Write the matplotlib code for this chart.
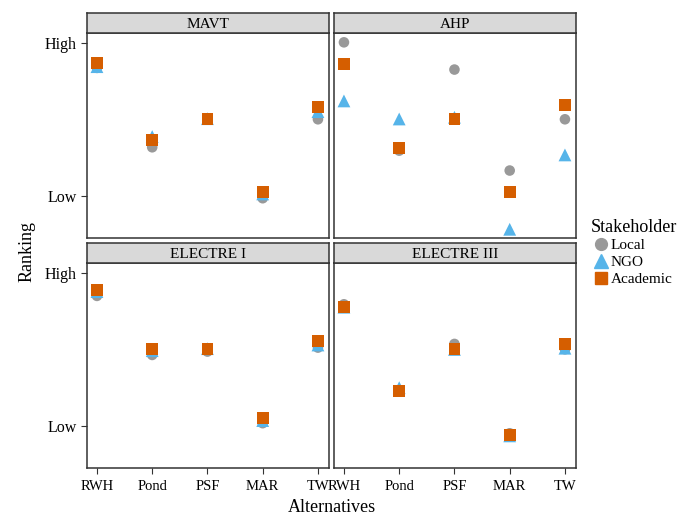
import matplotlib
matplotlib.use("Agg")
import matplotlib.pyplot as plt
from matplotlib.lines import Line2D

plt.rcParams['font.family'] = ['Liberation Serif', 'DejaVu Serif']

alternatives = ["RWH", "Pond", "PSF", "MAR", "TW"]
methods = ["MAVT", "AHP", "ELECTRE I", "ELECTRE III"]
stakeholders = ["Local", "NGO", "Academic"]

# Ranking values (Low = 0, High = 1)
mavt_local = [0.837, 0.318, 0.500, -0.015, 0.501]
mavt_ngo = [0.845, 0.388, 0.505, 0.013, 0.551]
mavt_academic = [0.867, 0.364, 0.501, 0.024, 0.580]

ahp_local = [1.004, 0.296, 0.826, 0.166, 0.501]
ahp_ngo = [0.621, 0.503, 0.514, -0.218, 0.268]
ahp_academic = [0.863, 0.312, 0.501, 0.024, 0.593]

e1_local = [0.850, 0.464, 0.486, 0.018, 0.512]
e1_ngo = [0.878, 0.492, 0.505, 0.035, 0.529]
e1_academic = [0.887, 0.501, 0.501, 0.050, 0.553]

e3_local = [0.795, 0.230, 0.536, -0.048, 0.501]
e3_ngo = [0.776, 0.250, 0.500, -0.065, 0.508]
e3_academic = [0.776, 0.227, 0.501, -0.061, 0.534]

data = {
    "MAVT": [mavt_local, mavt_ngo, mavt_academic],
    "AHP": [ahp_local, ahp_ngo, ahp_academic],
    "ELECTRE I": [e1_local, e1_ngo, e1_academic],
    "ELECTRE III": [e3_local, e3_ngo, e3_academic],
}

colors = ["#999999", "#56B4E9", "#D55E00"]
markers = ["o", "^", "s"]
sizes = [58, 85, 72]

W, H = 693, 515
fig = plt.figure(figsize=(W / 100, H / 100), dpi=100)

panel_x = [(87, 329), (334, 576)]
panel_y = [(33, 238), (263, 468)]
strip_h = 20
border = "#333333"

xpos = list(range(1, len(alternatives) + 1))

for i, m in enumerate(methods):
    r, c = divmod(i, 2)
    x0, x1 = panel_x[c]
    y0, y1 = panel_y[r]
    ax = fig.add_axes([x0 / W, (H - y1) / H, (x1 - x0) / W, (y1 - y0) / H])
    for k, s in enumerate(stakeholders):
        ax.scatter(xpos, data[m][k], s=sizes[k], c=colors[k], marker=markers[k],
                   edgecolors="none", zorder=3 + k)
    ax.set_xlim(0.82, 5.2)
    ax.set_ylim(-0.275, 1.065)
    ax.set_yticks([0, 1])
    ax.set_xticks(xpos)
    for sp in ax.spines.values():
        sp.set_color(border)
        sp.set_linewidth(1.1)
    ax.tick_params(colors=border, length=4, width=0.8, labelsize=11.5, labelcolor="black")
    ax.tick_params(axis="x", labelsize=10.5, pad=5)
    if c == 0:
        ax.set_yticklabels(["Low", "High"])
    else:
        ax.tick_params(axis="y", left=False, labelleft=False)
    if r == 1:
        ax.set_xticklabels(alternatives)
    else:
        ax.tick_params(axis="x", bottom=False, labelbottom=False)
    # strip
    sax = fig.add_axes([x0 / W, (H - y0) / H, (x1 - x0) / W, strip_h / H])
    sax.set_facecolor("#d9d9d9")
    sax.set_xticks([])
    sax.set_yticks([])
    for sp in sax.spines.values():
        sp.set_color(border)
        sp.set_linewidth(1.1)
    sax.text(0.5, 0.45, m, ha="center", va="center", fontsize=11, transform=sax.transAxes)

fig.text(332 / W, 1 - 507 / H, "Alternatives", ha="center", va="center", fontsize=13)
fig.text(27 / W, 1 - 252 / H, "Ranking", ha="center", va="center", fontsize=13, rotation=90)

handles = [Line2D([], [], linestyle="none", marker=markers[k], color=colors[k],
                  markersize=[8.5, 10, 8.5][k]) for k in range(3)]
leg = fig.legend(handles, stakeholders, title="Stakeholder", loc="upper left",
                 bbox_to_anchor=(583 / W, 1 - 211 / H), frameon=False,
                 fontsize=11, title_fontsize=13, handletextpad=0.0,
                 labelspacing=0.2, borderpad=0, handlelength=1.3)
leg._legend_box.align = "left"

fig.savefig("out.png", dpi=100)
